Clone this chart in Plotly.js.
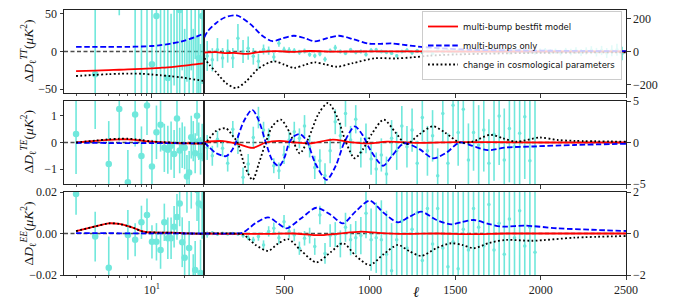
<!DOCTYPE html>
<html><head><meta charset="utf-8">
<script src="https://cdn.plot.ly/plotly-3.0.1.min.js"></script>
<style>html,body{margin:0;padding:0;background:#fff}#plot{width:674px;height:308px}</style>
</head><body><div id="plot"></div>
<script>
// ---------- data ----------
const lowEll = [2,3,4,5,6,7,8,9,10,11,12,13,14,15,16,17,18,19,20,21,22,23,24,25,26,27,28,29];
const ttLowVal = [-120,-30,160,110,-150,70,-95,120,-17,47,-80,75,-35,-90,85,-70,55,95,-85,70,-95,80,-70,90,-75,-9,-80,47];
const ttLowErr = [60,250,80,62,70,200,190,180,170,160,150,150,140,140,130,130,120,120,115,110,110,105,100,100,95,95,90,90];
const teLowVal = [0.32,1.9,-0.8,1.25,-1.48,1.05,-0.5,1.38,-0.9,0.38,0.66,-0.2,-0.27,-0.12,-0.43,0.9,-0.3,-0.1,-0.2,-1.27,-1.12,0.2,0.05,-0.4,1.0,0.05,-0.5,0.0];
const teLowErr = [1.5,1.4,1.6,1.2,1.2,1.2,1.1,1.1,1.0,1.0,1.0,0.9,0.9,0.9,0.9,0.9,0.85,0.85,0.8,0.8,0.8,0.8,0.75,0.75,0.75,0.7,0.7,0.7];
const eeLowVal = [0.019,-0.0015,-0.0165,0.03,-0.0007,-0.003,0.0054,0.0089,-0.004,-0.004,-0.008,0.0054,-0.0023,-0.0023,0.0033,0.008,0.0145,-0.0042,-0.0117,0.022,-0.007,0.025,-0.024,-0.0176,0.021,0.0145,-0.019,0.0135];
const eeLowErr = [0.01,0.012,0.015,0.01,0.012,0.008,0.008,0.008,0.008,0.009,0.009,0.009,0.01,0.01,0.01,0.011,0.011,0.012,0.012,0.012,0.013,0.013,0.014,0.014,0.015,0.015,0.016,0.016];

const binsTT = [47,77,107,137,167,197,227,257,287,317,347,377,407,437,467,497,527,557,587,617,647,677,707,737,767,797,827,857,887,917,947,977,1007,1037,1067,1097,1127,1157,1187,1217,1247,1277,1307,1337,1367,1397,1427,1457,1487,1517,1547,1577,1607,1637,1667,1697,1727,1757,1787,1817,1847,1877,1907,1937,1967,1997,2027,2057,2087,2117,2147,2177,2207,2237,2267,2297,2327,2357,2387,2417,2447,2477];
const ttHiVal = [-27,-50,11,-39,3,-39,80,0,20,-29,-59,12,5,-33,50,10,8,5,-5,3,-18,-26,-15,-46,5,22,0,-10,10,-5,0,-18,8,10,0,-5,-10,-26,0,8,-8,4,-6,2,-12,6,-3,5,-4,3,-2,4,-5,2,-3,6,-4,1,3,-6,2,4,-3,1,-5,3,6,-2,2,-7,4,-3,5,-6,3,8,-4,6,-9,5,10,-12];
const ttHiErr = [90,70,70,60,70,60,85,70,70,50,45,30,25,25,22,18,18,15,15,15,14,14,14,15,13,18,12,12,12,12,12,12,12,12,11,11,11,11,11,11,11,11,10,10,10,10,10,10,10,10,10,10,10,10,11,11,11,11,12,12,12,13,13,14,14,15,15,16,16,17,18,19,20,21,22,24,26,28,30,33,36,40];

const binsPol = [47,77,107,137,167,197,227,257,287,317,347,377,407,437,467,497,527,557,587,617,647,677,707,737,767,797,827,857,887,917,947,977,1007,1037,1067,1097,1127,1157,1187,1217,1247,1277,1307,1337,1367,1397,1427,1457,1487,1517,1547,1577,1607,1637,1667,1697,1727,1757,1787,1817,1847,1877,1907,1937,1967];
const teHiVal = [-0.6,-1.6,0.4,-0.7,-2.5,1.6,-0.2,-4.2,-2.6,0.6,3.0,1.5,0.8,-2.8,-3.4,-1.5,0.3,1.3,0.5,2.0,-0.5,-3.0,-2.2,-4.0,-1.0,2.5,0.8,3.5,0.3,2.8,-1.2,0.5,-2.0,-3.2,-1.5,-3.8,0.5,-1.0,2.0,-0.5,1.5,-2.5,3.0,-1.0,0.8,-4.0,3.5,-2.5,4.5,1.2,4.0,-2.1,1.2,-0.3,1.5,-2.5,1.0,3.2,-2.1,1.7,-0.5,1.1,3.1,-2.2,-0.5];
const teHiErr = [1.5,1.2,1.0,1.0,1.0,1.0,1.2,1.2,1.2,1.3,1.3,1.0,0.9,0.9,1.0,1.1,1.0,1.2,1.2,1.3,1.3,1.4,1.4,1.5,1.5,1.5,1.6,1.6,1.7,1.7,1.8,1.8,1.9,2.0,2.0,2.1,2.2,2.3,2.4,2.5,2.6,2.7,2.8,3.0,3.1,3.3,3.4,3.6,3.8,4.0,4.2,4.4,4.6,4.8,5.0,5.3,5.6,5.9,6.2,6.5,6.8,7.1,7.5,7.9,8.3];
const eeHiVal = [-0.05,0.02,-0.03,0.01,-0.02,0.0,-0.03,-0.1,-0.2,-0.31,-0.15,-0.55,0.1,0.25,-0.2,0.57,0.1,-0.07,-0.71,-0.23,-0.1,-0.63,0.89,-0.96,-0.1,-0.05,-0.5,0.3,-0.3,-0.2,-0.1,0.97,-0.3,-0.2,-0.3,-1.0,-1.8,-0.3,0.6,-0.7,0.2,1.0,-1.3,1.2,-0.5,1.2,-0.7,-1.6,-0.4,-1.7,0.2,-0.8,1.2,0.3,-0.6,1.4,-0.8,0.5,-1.0,0.7,-0.2,1.1,-0.6,0.3,-0.9];
const eeHiErr = [0.15,0.1,0.08,0.06,0.06,0.06,0.07,0.1,0.12,0.15,0.2,0.22,0.25,0.28,0.3,0.32,0.3,0.3,0.32,0.35,0.38,0.4,0.45,0.5,0.55,0.6,0.65,0.7,0.75,0.8,0.9,1.2,1.5,1.7,1.9,2.1,2.3,2.5,2.7,2.9,3.1,3.3,3.5,3.7,3.9,4.1,4.3,4.5,4.7,4.9,5.1,5.3,5.5,5.7,5.9,6.1,6.3,6.5,6.7,6.9,7.1,7.3,7.5,7.7,7.9];

// model curves, low-ell part (left axis)
const ttLowCurveEll = [2,3,4,5,6,8,10,12,15,18,20,22,25,27,30];
const ttLowRed   = [-26,-25.3,-24.7,-24.2,-23.8,-23,-22.3,-21.6,-20.6,-19.4,-18.7,-18,-17,-16.4,-15.6];
const ttLowBlue  = [6,6,6,6.1,6.2,6.6,7.3,8.4,10.5,12.8,14.5,16.3,19.2,21,24];
const ttLowBlack = [-32.5,-31,-30,-29.5,-29.3,-29.5,-30.5,-31.5,-32.8,-34,-35,-36,-37.3,-38,-39];
const teLowCurveEll = [2,3,4,5,6,7,8,10,13,16,20,25,30];
const teLowRed   = [0.0,0.06,0.1,0.12,0.12,0.1,0.07,0.03,0.0,-0.02,-0.03,-0.04,-0.04];
const teLowBlue  = [-0.01,-0.015,-0.02,-0.02,-0.02,-0.02,-0.02,-0.02,-0.02,-0.025,-0.03,-0.03,-0.02];
const teLowBlack = [0.0,0.07,0.12,0.14,0.14,0.12,0.09,0.04,0.01,-0.01,-0.02,-0.03,-0.03];
const eeLowCurveEll = [2,3,4,5,6,7,8,9,10,15,20,30];
const eeLowRed   = [0.0012,0.0034,0.0049,0.0046,0.0036,0.0024,0.0011,0.0006,0.0005,0.0004,0.0001,-0.0002];
const eeLowBlue  = [0.0002,0.0002,0.0002,0.0001,0.0001,0.0001,0.0001,0.0001,0.0001,0.0001,0.0,0.0];
const eeLowBlack = [0.0012,0.0034,0.0049,0.0046,0.0036,0.0024,0.0011,0.0006,0.0005,0.0004,0.0001,-0.0002];

// model curves, high-ell part (right axis)
const ttHiRedEll   = [30,100,150,200,280,350,450,550,650,800,1000,1500,2000,2500];
const ttHiRed      = [-6,-4,-10,-8,-14,-4,2,-2,3,-1,1,0,0,0];
const ttHiBlueEll  = [30,50,100,150,220,300,370,430,490,555,620,676,750,818,900,995,1060,1125,1200,1300,1400,1600,1800,2000,2250,2500];
const ttHiBlue     = [85,122,172,205,217,165,95,62,80,95,80,61,80,95,75,47,46,49,40,28,20,10,7,5,3,2];
const ttHiBlackEll = [30,60,100,157,215,275,350,437,500,557,620,676,740,806,900,1030,1150,1250,1350,1500,1700,2000,2250,2500];
const ttHiBlack    = [-39,-80,-125,-190,-220,-180,-100,-59,-80,-99,-80,-65,-78,-92,-70,-41,-42,-35,-25,-18,-13,-8,-6,-5];

const teHiRedEll   = [30,140,230,313,390,470,560,650,783,880,1000,1100,1300,1500,1700,2000,2500];
const teHiRed      = [0.05,0.17,-0.2,-0.65,0,0.2,0,-0.1,0.35,0.05,-0.1,0.1,-0.05,0.05,0.05,0,0];
const teHiBlueEll  = [30,60,100,157,190,215,260,310,350,390,430,468,500,527,560,592,630,680,746,800,850,911,960,1000,1077,1130,1200,1290,1370,1450,1525,1600,1690,1800,1950,2200,2500];
const teHiBlue     = [0,-0.6,-1.3,-1.65,-1.0,0,2.5,3.95,2.6,0,-2.2,-2.85,-1.8,0,0.8,1.0,0.2,-2.5,-4.5,-2.8,0,1.94,0.8,-0.8,-2.8,-1.6,-0.1,-0.8,-1.9,-1.2,0,-0.4,-0.92,-0.6,-0.48,-0.3,-0.15];
const teHiBlackEll = [30,60,100,157,200,225,270,313,350,390,430,478,530,589,640,700,755,810,860,911,960,1010,1081,1150,1213,1290,1369,1440,1525,1600,1705,1780,1860,1995,2100,2200,2500];
const teHiBlack    = [-0.25,0.5,1.4,1.7,0.7,0,-3.0,-4.5,-2.5,0,2.0,2.75,1.2,-1.3,0.5,3.5,4.77,3.0,0,-1.9,-0.8,1.0,2.75,1.2,-0.2,1.0,1.95,1.2,0,0.1,0.93,0.5,0.1,0.6,0.3,0.2,0.1];

const eeHiRedEll   = [30,400,550,700,800,950,1050,1200,1400,1600,1800,2500];
const eeHiRed      = [0,-0.02,0,-0.08,-0.02,0.09,0.03,-0.02,0,-0.03,0,0];
const eeHiBlueEll  = [30,200,258,330,404,460,512,600,687,770,843,920,999,1080,1164,1230,1301,1390,1476,1540,1609,1700,1778,1905,2100,2300,2500];
const eeHiBlue     = [0,0,0.05,0.5,0.78,0.5,0.25,0.75,1.24,0.9,0.49,1.1,1.58,1.0,0.54,0.8,1.05,0.65,0.44,0.55,0.65,0.45,0.33,0.38,0.25,0.18,0.12];
const eeHiBlackEll = [30,200,258,330,404,460,520,600,687,770,843,920,999,1080,1164,1230,1301,1390,1476,1540,1609,1700,1798,1950,2200,2500];
const eeHiBlack    = [0,0,-0.05,-0.55,-0.84,-0.5,-0.27,-0.85,-1.39,-0.9,-0.47,-1.1,-1.52,-1.0,-0.55,-0.85,-1.08,-0.7,-0.47,-0.55,-0.71,-0.45,-0.31,-0.35,-0.2,-0.12];

const legendNames = ['multi-bump bestfit model','multi-bumps only','change in cosmological parameters'];
const xTickVals = [500,1000,1500,2000,2500];

// ---------- styling ----------
const SERIF = 'Liberation Serif, DejaVu Serif, serif';
const CYAN = 'rgb(64,224,208)';
const STY = {
  red:   {color:'#ff0000', width:1.8},
  blue:  {color:'#0000ff', width:1.8, dash:'5.5px,2.6px'},
  black: {color:'#000000', width:1.8, dash:'1.8px,2.4px'}
};

function dataTrace(x, y, e, xa, ya, size){
  return {x:x, y:y, type:'scatter', mode:'markers', xaxis:xa, yaxis:ya,
    marker:{color:CYAN, size:size, line:{width:0}},
    error_y:{type:'data', array:e, visible:true, color:CYAN, thickness:1.6, width:0},
    opacity:0.75, showlegend:false, hoverinfo:'skip'};
}
function lineTrace(x, y, xa, ya, kind, idx, legend){
  return {x:x, y:y, type:'scatter', mode:'lines', xaxis:xa, yaxis:ya,
    line:Object.assign({shape:'spline', smoothing:0.8}, STY[kind]),
    name:legendNames[idx], showlegend:!!legend, hoverinfo:'skip'};
}

const traces = [
  dataTrace(lowEll, ttLowVal, ttLowErr, 'x', 'y', 6.5),
  dataTrace(binsTT, ttHiVal, ttHiErr, 'x2', 'y2', 3.5),
  dataTrace(lowEll, teLowVal, teLowErr, 'x3', 'y3', 6.5),
  dataTrace(binsPol, teHiVal, teHiErr, 'x4', 'y4', 3.5),
  dataTrace(lowEll, eeLowVal, eeLowErr, 'x5', 'y5', 6.5),
  dataTrace(binsPol, eeHiVal, eeHiErr, 'x6', 'y6', 3.5),

  lineTrace(ttHiRedEll, ttHiRed, 'x2', 'y2', 'red', 0, true),
  lineTrace(ttHiBlueEll, ttHiBlue, 'x2', 'y2', 'blue', 1, true),
  lineTrace(ttHiBlackEll, ttHiBlack, 'x2', 'y2', 'black', 2, true),
  lineTrace(ttLowCurveEll, ttLowRed, 'x', 'y', 'red', 0),
  lineTrace(ttLowCurveEll, ttLowBlue, 'x', 'y', 'blue', 1),
  lineTrace(ttLowCurveEll, ttLowBlack, 'x', 'y', 'black', 2),

  lineTrace(teLowCurveEll, teLowRed, 'x3', 'y3', 'red', 0),
  lineTrace(teLowCurveEll, teLowBlue, 'x3', 'y3', 'blue', 1),
  lineTrace(teLowCurveEll, teLowBlack, 'x3', 'y3', 'black', 2),
  lineTrace(teHiRedEll, teHiRed, 'x4', 'y4', 'red', 0),
  lineTrace(teHiBlueEll, teHiBlue, 'x4', 'y4', 'blue', 1),
  lineTrace(teHiBlackEll, teHiBlack, 'x4', 'y4', 'black', 2),

  lineTrace(eeLowCurveEll, eeLowRed, 'x5', 'y5', 'red', 0),
  lineTrace(eeLowCurveEll, eeLowBlue, 'x5', 'y5', 'blue', 1),
  lineTrace(eeLowCurveEll, eeLowBlack, 'x5', 'y5', 'black', 2),
  lineTrace(eeHiRedEll, eeHiRed, 'x6', 'y6', 'red', 0),
  lineTrace(eeHiBlueEll, eeHiBlue, 'x6', 'y6', 'blue', 1),
  lineTrace(eeHiBlackEll, eeHiBlack, 'x6', 'y6', 'black', 2)
];

// ---------- layout ----------
const W = 674, H = 308;
const leftDom = [64/W, 204.3/W], rightDom = [204.3/W, 626/W];
const rowDom = [[1-93/H, 1-10/H], [1-184/H, 1-101/H], [1-275/H, 1-192/H]];

const base = {showline:true, mirror:true, linecolor:'#222', linewidth:1,
  ticks:'outside', ticklen:3.5, tickwidth:0.9, tickcolor:'#222',
  showgrid:false, zeroline:false, fixedrange:true,
  tickfont:{family:SERIF, size:12, color:'#222'}};

function logX(anchor, labels){
  return Object.assign({}, base, {type:'log', domain:leftDom, anchor:anchor,
    range:[0.19, 1.482], tickmode:'array', tickvals:[10], ticktext:['10<sup>1</sup>'],
    showticklabels:labels,
    minor:{tickmode:'array', tickvals:[2,3,4,5,6,7,8,9,20,30], ticks:'outside', ticklen:2, tickwidth:0.8, tickcolor:'#222'}});
}
function linX(anchor, labels){
  return Object.assign({}, base, {domain:rightDom, anchor:anchor, range:[30,2500],
    tickmode:'array', tickvals:xTickVals, ticktext:xTickVals.map(String), showticklabels:labels});
}
function yAx(row, anchor, range, vals, side, fmt){
  const o = Object.assign({}, base, {domain:rowDom[row], anchor:anchor, range:range,
    tickmode:'array', tickvals:vals, side:side});
  if (fmt) o.tickformat = fmt;
  return o;
}

const yTitles = [
  'Δ<i>D</i><sub>ℓ</sub><sup><i>TT</i></sup>(<i>μK</i><sup>2</sup>)',
  'Δ<i>D</i><sub>ℓ</sub><sup><i>TE</i></sup>(<i>μK</i><sup>2</sup>)',
  'Δ<i>D</i><sub>ℓ</sub><sup><i>EE</i></sup>(<i>μK</i><sup>2</sup>)'
];
const annotations = yTitles.map((t,i)=>({text:t, xref:'paper', yref:'paper', x:29/W,
  y:(rowDom[i][0]+rowDom[i][1])/2, textangle:-90, showarrow:false,
  xanchor:'center', yanchor:'middle', font:{family:SERIF, size:13.5, color:'#111'}}));
annotations.push({text:'<i>ℓ</i>', xref:'paper', yref:'paper', x:416/W, y:1-292/H,
  showarrow:false, xanchor:'center', yanchor:'middle', font:{family:SERIF, size:15, color:'#111'}});

const shapes = ['y','y3','y5'].map(ya=>({type:'line', xref:'paper', yref:ya,
  x0:leftDom[0], x1:rightDom[1], y0:0, y1:0, layer:'below',
  line:{color:'rgba(0,0,0,0.7)', width:1.3, dash:'4px,2.5px'}}));

const layout = {
  width:W, height:H, margin:{l:0,r:0,t:0,b:0,pad:0},
  paper_bgcolor:'#fff', plot_bgcolor:'#fff',
  showlegend:true,
  legend:{x:422/W, y:1-11/H, xanchor:'left', yanchor:'top',
    bgcolor:'rgba(255,255,255,0.8)', bordercolor:'#cccccc', borderwidth:1,
    font:{family:'DejaVu Sans', size:8.5, color:'#111'}, itemwidth:30, tracegroupgap:0},
  xaxis: logX('y', false),  xaxis2: linX('y2', false),
  xaxis3: logX('y3', false), xaxis4: linX('y4', false),
  xaxis5: logX('y5', true),  xaxis6: linX('y6', true),
  yaxis:  yAx(0, 'x',  [-55,55], [-50,0,50], 'left'),
  yaxis2: yAx(0, 'x2', [-250,250], [-200,0,200], 'right'),
  yaxis3: yAx(1, 'x3', [-1.55,1.55], [-1,0,1], 'left'),
  yaxis4: yAx(1, 'x4', [-5,5], [-5,0,5], 'right'),
  yaxis5: yAx(2, 'x5', [-0.02,0.02], [-0.02,0,0.02], 'left', '.2f'),
  yaxis6: yAx(2, 'x6', [-2,2], [-2,0,2], 'right'),
  annotations:annotations, shapes:shapes
};

Plotly.newPlot('plot', traces, layout, {staticPlot:true, displayModeBar:false});
</script>
</body></html>
